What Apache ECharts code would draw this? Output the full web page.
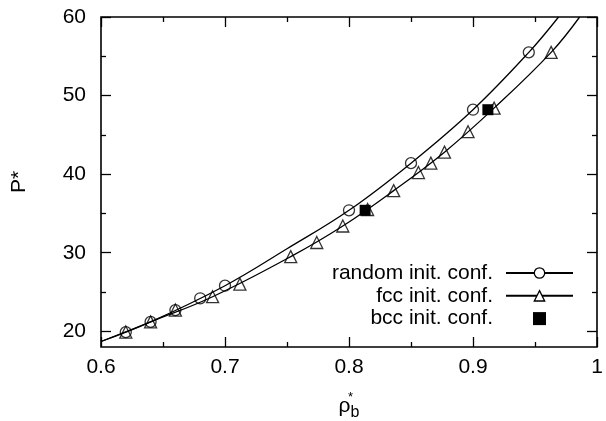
<!DOCTYPE html>
<html>
<head>
<meta charset="utf-8">
<script src="https://cdn.jsdelivr.net/npm/echarts@6/dist/echarts.min.js"></script>
<style>
html,body{margin:0;padding:0;background:#fff;}
#c{width:606px;height:421px;}
</style>
</head>
<body>
<div id="c"></div>
<script>
// ---- data ----
const randomPts = [[0.62,19.9],[0.64,21.2],[0.66,22.7],[0.68,24.2],[0.70,25.8],[0.80,35.4],[0.85,41.4],[0.90,48.2],[0.945,55.5]];
const fccPts = [[0.62,19.9],[0.64,21.2],[0.66,22.7],[0.69,24.4],[0.712,26.0],[0.753,29.5],[0.774,31.3],[0.795,33.4],[0.815,35.5],[0.836,37.9],[0.856,40.2],[0.866,41.4],[0.877,42.8],[0.896,45.4],[0.917,48.4],[0.963,55.5]];
const bccPts = [[0.813,35.4],[0.912,48.2]];
// fitted curves
const randomCurve = [[0.6,18.7],[0.64,21.2],[0.70,25.8],[0.75,30.5],[0.80,35.4],[0.85,41.4],[0.90,48.2],[0.945,55.5],[0.969,60]];
const fccCurve = [[0.6,18.7],[0.64,21.2],[0.69,24.4],[0.753,29.5],[0.795,33.4],[0.836,37.9],[0.877,42.8],[0.917,48.4],[0.963,55.5],[0.986,60]];
const seriesNames = ['random init. conf.','fcc init. conf.','bcc init. conf.'];
const xMin = 0.6, xMax = 1.0, xStep = 0.1;
const yMin = 18, yMax = 60, yTickMin = 20, yStep = 10;

const FONT = 'Liberation Sans, Arial, Helvetica, sans-serif';
const chart = echarts.init(document.getElementById('c'), null, {renderer:'canvas'});

const G_LEFT = 101, G_RIGHT = 9, G_TOP = 17, G_BOTTOM = 74;
const gH = 421 - G_TOP - G_BOTTOM;
const g1Bottom = G_BOTTOM + gH * (yTickMin - yMin) / (yMax - yMin);

const tickStyle = {lineStyle:{color:'#000', width:1.3}};
const hollow = {color:'#fff', borderColor:'#000', borderWidth:1.3};
const option = {
  animation:false,
  backgroundColor:'#fff',
  textStyle:{fontFamily:FONT},
  grid:[
    {left:G_LEFT, right:G_RIGHT, top:G_TOP, bottom:G_BOTTOM, containLabel:false, outerBoundsMode:'none',
     show:true, borderColor:'#000', borderWidth:1.6, backgroundColor:'transparent'},
    {left:G_LEFT, right:G_RIGHT, top:G_TOP, bottom:g1Bottom, containLabel:false, outerBoundsMode:'none', show:false}
  ],
  xAxis:[
    {type:'value', gridIndex:0, min:xMin, max:xMax, interval:xStep, position:'bottom',
     axisLine:{show:false}, splitLine:{show:false},
     axisTick:{show:true, inside:true, length:10, ...tickStyle},
     minorTick:{show:true, splitNumber:2, length:5, ...tickStyle},
     axisLabel:{color:'#000', fontSize:21, fontFamily:FONT, margin:10,
       formatter:v => (Math.abs(v-1)<1e-9 ? '1' : v.toFixed(1))},
     name:'{r|ρ}{s|*}{b|b}', nameLocation:'middle', nameGap:44,
     nameTextStyle:{rich:{
       r:{fontSize:21, fontFamily:FONT, color:'#000', lineHeight:30, verticalAlign:'middle'},
       s:{fontSize:13, fontFamily:FONT, color:'#000', width:0, align:'left', verticalAlign:'top', lineHeight:30},
       b:{fontSize:16, fontFamily:FONT, color:'#000', verticalAlign:'bottom', lineHeight:30}
     }}},
    {type:'value', gridIndex:0, min:xMin, max:xMax, interval:xStep, position:'top',
     axisLine:{show:false}, splitLine:{show:false}, axisLabel:{show:false},
     axisTick:{show:true, inside:true, length:10, ...tickStyle},
     minorTick:{show:true, splitNumber:2, length:5, ...tickStyle}},
    {type:'value', gridIndex:1, min:xMin, max:xMax, show:false}
  ],
  yAxis:[
    {type:'value', gridIndex:0, min:yMin, max:yMax, position:'left',
     axisLine:{show:false}, axisTick:{show:false}, axisLabel:{show:false}, splitLine:{show:false},
     name:'P*', nameLocation:'middle', nameGap:71,
     nameTextStyle:{fontSize:21, fontFamily:FONT, color:'#000'}},
    {type:'value', gridIndex:1, min:yTickMin, max:yMax, interval:yStep, position:'left',
     axisLine:{show:false}, splitLine:{show:false},
     axisTick:{show:true, inside:true, length:10, ...tickStyle},
     minorTick:{show:true, splitNumber:2, length:5, ...tickStyle},
     axisLabel:{color:'#000', fontSize:21, fontFamily:FONT, margin:15}},
    {type:'value', gridIndex:1, min:yTickMin, max:yMax, interval:yStep, position:'right',
     axisLine:{show:false}, splitLine:{show:false}, axisLabel:{show:false},
     axisTick:{show:true, inside:true, length:10, ...tickStyle},
     minorTick:{show:true, splitNumber:2, length:5, ...tickStyle}}
  ],
  legend:{
    orient:'vertical', right:27, top:257.5, align:'right',
    itemWidth:67, itemHeight:13, itemGap:1.8,
    textStyle:{fontSize:21, fontFamily:FONT, color:'#000', padding:[0,8,0,0]},
    data:[
      {name:seriesNames[0], itemStyle:hollow},
      {name:seriesNames[1], itemStyle:hollow},
      {name:seriesNames[2], icon:'path://M0,0L10,0L10,10L0,10Z'}
    ]
  },
  series:[
    {name:seriesNames[0], type:'line', xAxisIndex:0, yAxisIndex:0, data:randomCurve,
     smooth:0.4, symbol:'circle', showSymbol:false,
     lineStyle:{color:'#000', width:1.3}, itemStyle:{color:'#000'}, clip:true, z:2},
    {name:seriesNames[1], type:'line', xAxisIndex:0, yAxisIndex:0, data:fccCurve,
     smooth:0.4, symbol:'triangle', showSymbol:false,
     lineStyle:{color:'#000', width:1.3}, itemStyle:{color:'#000'}, clip:true, z:2},
    {name:seriesNames[0], type:'scatter', xAxisIndex:0, yAxisIndex:0, data:randomPts,
     symbol:'circle', symbolSize:11,
     itemStyle:{color:'rgba(0,0,0,0)', borderColor:'#000', borderWidth:1.3}, z:3},
    {name:seriesNames[1], type:'scatter', xAxisIndex:0, yAxisIndex:0, data:fccPts,
     symbol:'triangle', symbolSize:12,
     itemStyle:{color:'rgba(0,0,0,0)', borderColor:'#000', borderWidth:1.3}, z:3},
    {name:seriesNames[2], type:'scatter', xAxisIndex:0, yAxisIndex:0, data:bccPts,
     symbol:'rect', symbolSize:11,
     itemStyle:{color:'#000', opacity:1}, z:4}
  ]
};
chart.setOption(option);
</script>
</body>
</html>
